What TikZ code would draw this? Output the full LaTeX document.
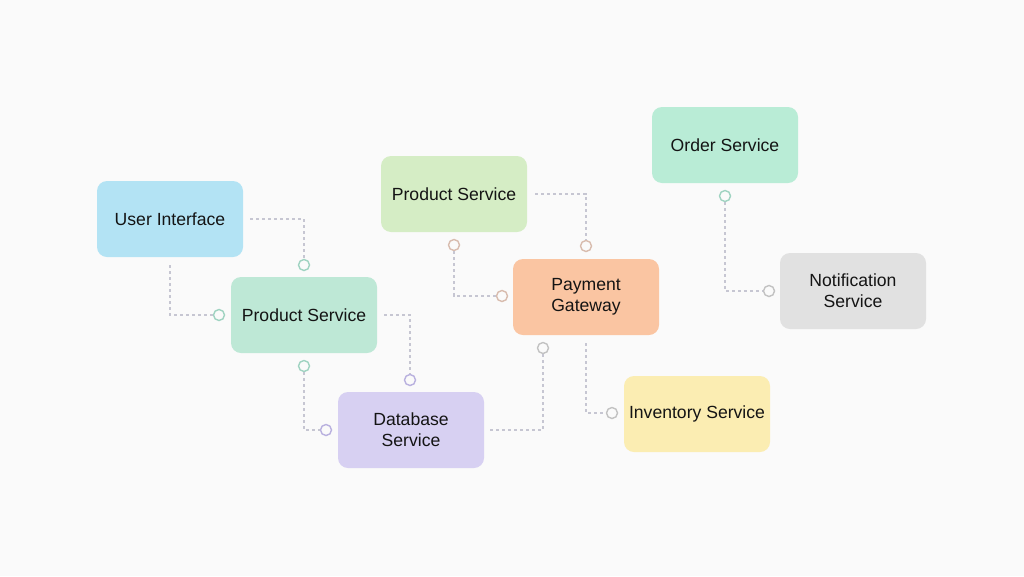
\documentclass[tikz,border=0pt]{standalone}
\usepackage{fontspec}
\setmainfont{Liberation Sans}
\usepackage{xcolor}
\usepackage{tikz}

\definecolor{bgc}{HTML}{FAFAFA}
\definecolor{uic}{HTML}{B3E3F4}
\definecolor{psac}{HTML}{BEE8D6}
\definecolor{psbc}{HTML}{D5EDC5}
\definecolor{pgc}{HTML}{FAC5A2}
\definecolor{dbc}{HTML}{D7D0F2}
\definecolor{invc}{HTML}{FBEDB2}
\definecolor{ordc}{HTML}{B9ECD6}
\definecolor{notc}{HTML}{E1E1E1}
\definecolor{linkc}{HTML}{C6C6D2}
\definecolor{tealdot}{HTML}{9FD3C1}
\definecolor{purpdot}{HTML}{B9B1DF}
\definecolor{greydot}{HTML}{C2C2C2}
\definecolor{tandot}{HTML}{D8BCAE}

\begin{document}
\begin{tikzpicture}[x=1pt,y=-1pt,
  svc/.style={rounded corners=10pt,minimum width=146pt,minimum height=76pt,
    align=center,font=\fontsize{17.6}{21}\selectfont,text=black!92},
  link/.style={draw=linkc,line width=1.1pt,dash pattern=on 3pt off 3pt},
  dot/.style={circle,draw=#1,line width=1.4pt,fill=bgc,minimum size=11pt,inner sep=0pt}]
\fill[bgc] (0,0) rectangle (1024,576);
\useasboundingbox (0,0) rectangle (1024,576);

\node[svc,fill=uic] (ui) at (170,219) {User Interface};
\node[svc,fill=psac] (psa) at (304,315) {Product Service};
\node[svc,fill=psbc] (psb) at (454,194) {Product Service};
\node[svc,fill=pgc] (pg) at (586,297) {Payment\\Gateway};
\node[svc,fill=dbc] (db) at (411,430) {Database\\Service};
\node[svc,fill=invc] (inv) at (697,414) {Inventory Service};
\node[svc,fill=ordc] (ord) at (725,145) {Order Service};
\node[svc,fill=notc] (nots) at (853,291) {Notification\\Service};

\node[dot=tealdot] (d1) at (304,265) {};
\node[dot=tealdot] (d2) at (219,315) {};
\node[dot=purpdot] (d3) at (410,380) {};
\node[dot=tealdot] (d4a) at (304,366) {};
\node[dot=purpdot] (d4b) at (326,430) {};
\node[dot=greydot] (d5) at (543,348) {};
\node[dot=greydot] (d6) at (612,413) {};
\node[dot=tandot] (d7) at (586,246) {};
\node[dot=tandot] (d8a) at (454,245) {};
\node[dot=tandot] (d8b) at (502,296) {};
\node[dot=tealdot] (d9a) at (725,196) {};
\node[dot=greydot] (d9b) at (769,291) {};

\draw[link] ([xshift=7pt]ui.east) -| (d1);
\draw[link] ([yshift=-8pt]ui.south) |- (d2);
\draw[link] ([xshift=7pt]psa.east) -| (d3);
\draw[link] (d4a) |- (d4b);
\draw[link] ([xshift=6pt]db.east) -| (d5);
\draw[link] ([yshift=-8pt]pg.south) |- (d6);
\draw[link] ([xshift=8pt]psb.east) -| (d7);
\draw[link] (d8a) |- (d8b);
\draw[link] (d9a) |- (d9b);
\end{tikzpicture}
\end{document}
